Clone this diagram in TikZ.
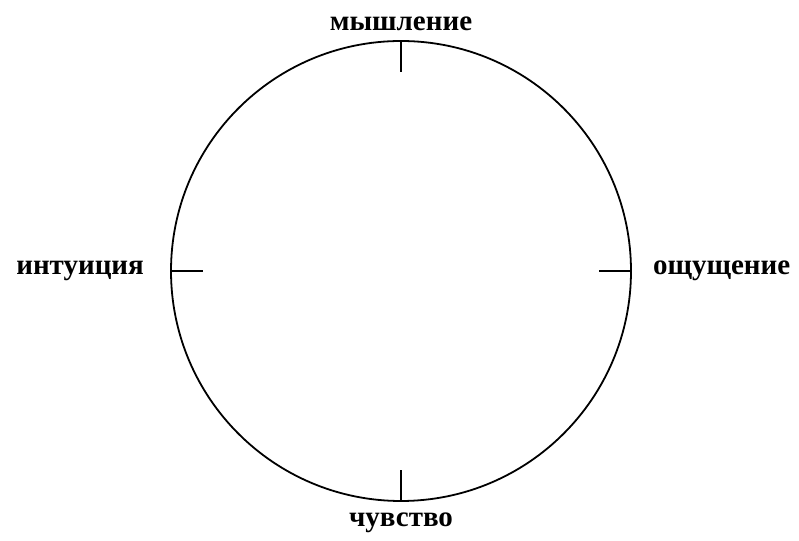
\documentclass[tikz,border=0pt]{standalone}
\usepackage{fontspec}
\setmainfont{Liberation Serif}
\usepackage{tikz}
\usetikzlibrary{positioning}
\tikzset{
    wheel/.style = {circle, draw, line width=1.8pt, minimum size=460pt, inner sep=0pt},
    tick/.style = {line width=1.8pt},
    fnlabel/.style = {font=\fontsize{29}{33}\selectfont\bfseries, inner sep=0pt}
}

\begin{document}
\begin{tikzpicture}[x=1pt, y=1pt]
    \useasboundingbox (0,0) rectangle (799,540);
    \node [wheel] (wheel) at (401,269) {};
    % ticks pointing inwards
    \draw [tick] (wheel.north) -- ([yshift=-32pt]wheel.north);
    \draw [tick] (wheel.south) -- ([yshift=32pt]wheel.south);
    \draw [tick] (wheel.west) -- ([xshift=33pt]wheel.west);
    \draw [tick] (wheel.east) -- ([xshift=-33pt]wheel.east);
    % function labels
    \node [fnlabel, above=9pt of wheel.north] (think) {мышление};
    \node [fnlabel, below=11pt of wheel.south] (feel) {чувство};
    \node [fnlabel, left=26pt of wheel.west] (intuit) {интуиция};
    \node [fnlabel, right=21pt of wheel.east] (sense) {ощущение};
\end{tikzpicture}
\end{document}
